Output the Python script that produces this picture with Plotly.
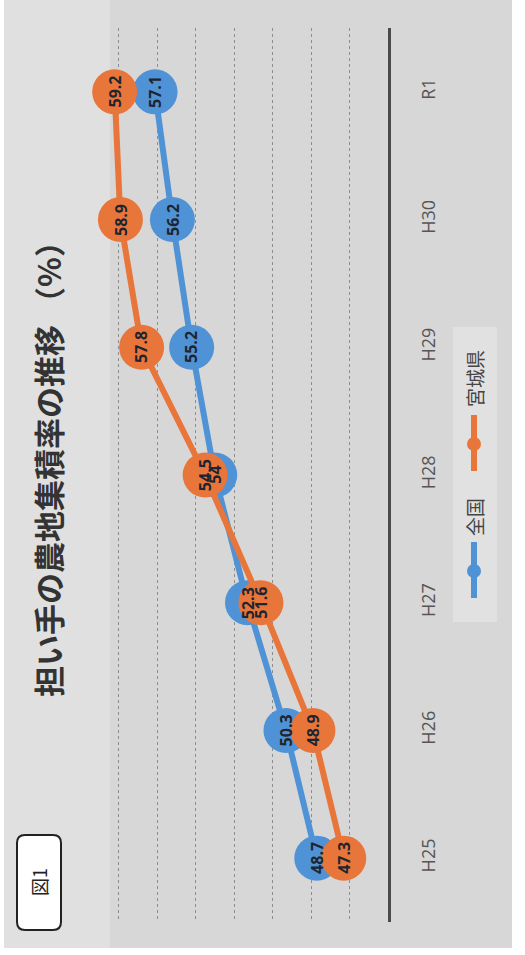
import plotly.graph_objects as go

# ---- data ----
categories = ["H25", "H26", "H27", "H28", "H29", "H30", "R1"]
zenkoku = [48.7, 50.3, 52.3, 54.0, 55.2, 56.2, 57.1]
miyagi = [47.3, 48.9, 51.6, 54.5, 57.8, 58.9, 59.2]
series_names = ["全国", "宮城県"]
title_text = "担い手の農地集積率の推移 （%）"
fig_label = "図1"
grid_vals = [47, 49, 51, 53, 55, 57, 59]

W, H = 525, 955
BLUE = "#4f93d6"
ORANGE = "#e8763a"
CJK = "Noto Sans CJK JP"


def px(x):
    return x / W


def py(y):
    return 1 - y / H


def rounded_rect(x0, y0, x1, y1, r):
    X0, X1 = px(x0), px(x1)
    Y0, Y1 = py(y0), py(y1)
    rx, ry = r / W, r / H
    return (f"M {X0+rx},{Y0} L {X1-rx},{Y0} Q {X1},{Y0} {X1},{Y0-ry} "
            f"L {X1},{Y1+ry} Q {X1},{Y1} {X1-rx},{Y1} "
            f"L {X0+rx},{Y1} Q {X0},{Y1} {X0},{Y1+ry} "
            f"L {X0},{Y0-ry} Q {X0},{Y0} {X0+rx},{Y0} Z")


fig = go.Figure()
for name, vals, col in [(series_names[0], zenkoku, BLUE), (series_names[1], miyagi, ORANGE)]:
    fig.add_trace(go.Scatter(
        x=vals, y=categories, name=name, mode="lines+markers",
        line=dict(color=col, width=6),
        marker=dict(color=col, size=45),
        showlegend=False, hoverinfo="skip", cliponaxis=False,
    ))

annotations = []
for vals in (zenkoku, miyagi):
    for c, v in zip(categories, vals):
        annotations.append(dict(
            x=v, y=c, xref="x", yref="y", text=f"{v:g}", showarrow=False,
            textangle=-90, xanchor="center", yanchor="middle",
            font=dict(family="Open Sans", size=16, color="#1e2430", weight="bold"),
        ))

# title
annotations.append(dict(
    x=px(47), y=py(462), xref="paper", yref="paper", text=title_text, showarrow=False,
    textangle=-90, xanchor="center", yanchor="middle",
    font=dict(family=CJK, size=31, color="#333333", weight="bold"),
))
# figure label
annotations.append(dict(
    x=px(39), y=py(882), xref="paper", yref="paper", text=fig_label, showarrow=False,
    textangle=-90, xanchor="center", yanchor="middle",
    font=dict(family=CJK, size=18, color="#222222"),
))
# manual legend
leg = [(series_names[1], ORANGE, 378, 444), (series_names[0], BLUE, 517, 571)]
shapes = [
    dict(type="rect", xref="paper", yref="paper", x0=px(4), x1=px(512), y0=py(948), y1=py(0),
         fillcolor="#d7d7d7", line=dict(width=0), layer="below"),
    dict(type="rect", xref="paper", yref="paper", x0=px(4), x1=px(110), y0=py(948), y1=py(0),
         fillcolor="#e0e0e0", line=dict(width=0), layer="below"),
    dict(type="rect", xref="paper", yref="paper", x0=px(453), x1=px(497), y0=py(622), y1=py(327),
         fillcolor="#e1e1e1", line=dict(width=0), layer="below"),
    dict(type="path", xref="paper", yref="paper", path=rounded_rect(17, 835, 61, 930, 8),
         fillcolor="white", line=dict(color="#222222", width=2)),
]
for name, col, ty, my in leg:
    annotations.append(dict(
        x=px(474), y=py(ty), xref="paper", yref="paper", text=name, showarrow=False,
        textangle=-90, xanchor="center", yanchor="middle",
        font=dict(family=CJK, size=19, color="#444444"),
    ))
    shapes.append(dict(type="line", xref="paper", yref="paper", x0=px(474), x1=px(474),
                       y0=py(my - 29), y1=py(my + 27), line=dict(color=col, width=6)))
    shapes.append(dict(type="circle", xref="paper", yref="paper", x0=px(467), x1=px(481),
                       y0=py(my + 7), y1=py(my - 7), fillcolor=col, line=dict(width=0)))

fig.update_layout(
    width=W, height=H, margin=dict(l=0, r=0, t=0, b=0),
    paper_bgcolor="white", plot_bgcolor="rgba(0,0,0,0)",
    xaxis=dict(domain=[px(80), px(388)], range=[61, 45], tickvals=grid_vals,
               showgrid=True, gridcolor="#8e8e8e", gridwidth=1, griddash="dot",
               showticklabels=False, zeroline=False, showline=False, fixedrange=True),
    yaxis=dict(type="category", categoryorder="array", categoryarray=categories,
               domain=[py(922), py(28)], range=[-0.5, 6.5], side="right",
               showline=True, linecolor="#4a4a4a", linewidth=3, showgrid=False,
               tickangle=-90, ticks="", ticklabelstandoff=22,
               tickfont=dict(family="Open Sans", size=18, color="#555555"), fixedrange=True),
    annotations=annotations, shapes=shapes,
)
fig.write_html("out.html", config={"displayModeBar": False},
               post_script="document.body.style.margin='0';")
